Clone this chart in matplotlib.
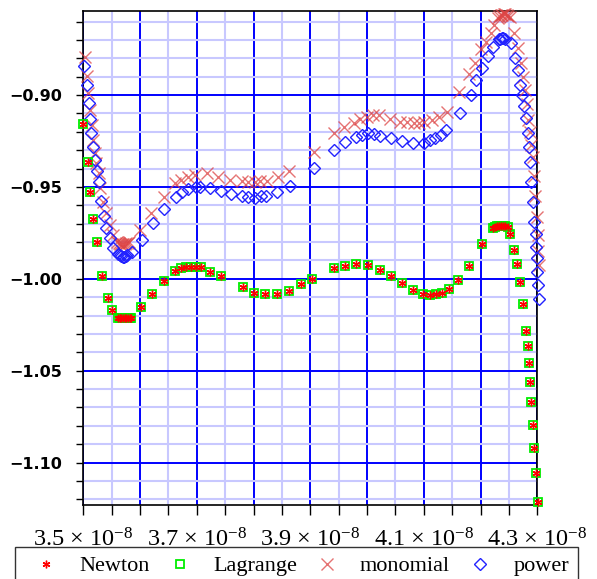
import numpy as np
import matplotlib.pyplot as plt
from matplotlib.ticker import MultipleLocator, FuncFormatter

plt.rcParams['mathtext.fontset'] = 'custom'
plt.rcParams['mathtext.rm'] = 'Liberation Serif'
plt.rcParams['mathtext.it'] = 'Liberation Serif:italic'

# x values are given in units of 1e-8
newton_x = [3.5000, 3.5078, 3.5127, 3.5168, 3.5233, 3.5335, 3.5427, 3.5506,
            3.5612, 3.5639, 3.5665, 3.5692, 3.5727, 3.5753, 3.5789, 3.5815, 3.5842,
            3.6013, 3.6212, 3.6415, 3.6618, 3.6724, 3.6812, 3.6900, 3.6988,
            3.7068, 3.7235, 3.7421, 3.7809, 3.8015, 3.8206, 3.8409, 3.8617,
            3.8832, 3.9035, 3.9411, 3.9617, 3.9812, 4.0011, 4.0223, 4.0429,
            4.0618, 4.0812, 4.0988, 4.1117, 4.1223, 4.1324, 4.1440, 4.1602,
            4.1805, 4.2017, 4.2211, 4.2246, 4.2282, 4.2317, 4.2352, 4.2387, 4.2423,
            4.2476, 4.2515, 4.2587, 4.2640, 4.2696, 4.2746, 4.2802, 4.2829,
            4.2852, 4.2878, 4.2896, 4.2922, 4.2949, 4.2979, 4.3005]
newton_y = [-0.9158, -0.9363, -0.9530, -0.9677, -0.9798, -0.9985, -1.0104, -1.0170,
            -1.0213, -1.0215, -1.0216, -1.0216, -1.0216, -1.0215, -1.0213, -1.0212, -1.0211,
            -1.0152, -1.0081, -1.0010, -0.9958, -0.9943, -0.9937, -0.9934, -0.9934,
            -0.9937, -0.9961, -0.9984, -1.0047, -1.0075, -1.0081, -1.0081, -1.0068,
            -1.0030, -1.0001, -0.9941, -0.9928, -0.9921, -0.9926, -0.9952, -0.9985,
            -1.0024, -1.0061, -1.0083, -1.0088, -1.0083, -1.0076, -1.0056, -1.0009,
            -0.9929, -0.9813, -0.9722, -0.9718, -0.9715, -0.9713, -0.9713, -0.9713, -0.9713,
            -0.9717, -0.9758, -0.9843, -0.9921, -1.0019, -1.0137, -1.0284, -1.0365,
            -1.0458, -1.0560, -1.0673, -1.0795, -1.0922, -1.1058, -1.1213]
# Lagrange evaluates to the same values as Newton
lagrange_x = list(newton_x)
lagrange_y = list(newton_y)

monomial_x = [3.5030, 3.5074, 3.5083, 3.5115, 3.5145, 3.5171, 3.5201, 3.5229,
              3.5272, 3.5303, 3.5348, 3.5406, 3.5466, 3.5524, 3.5595, 3.5621,
              3.5648, 3.5674, 3.5700, 3.5727, 3.5753, 3.5780, 3.5806, 3.5995,
              3.6200, 3.6424, 3.6613, 3.6729, 3.6847, 3.6966, 3.7177, 3.7382,
              3.7588, 3.7795, 3.7911, 3.8029, 3.8118, 3.8236, 3.8423, 3.8617,
              3.9058, 3.9411, 3.9587, 3.9764, 3.9882, 4.0000, 4.0106, 4.0205,
              4.0411, 4.0588, 4.0706, 4.0823, 4.0911, 4.0999, 4.1147, 4.1264,
              4.1408, 4.1617, 4.1805, 4.1894, 4.2013, 4.2088, 4.2176, 4.2234,
              4.2299, 4.2326, 4.2352, 4.2379, 4.2405, 4.2432, 4.2458, 4.2485,
              4.2511, 4.2590, 4.2661, 4.2719, 4.2749, 4.2785, 4.2811, 4.2829,
              4.2869, 4.2896, 4.2917, 4.2935, 4.2961, 4.2987, 4.3005, 4.3014, 4.3023]
monomial_y = [-0.8793, -0.8897, -0.8991, -0.9082, -0.9163, -0.9245, -0.9317, -0.9372,
              -0.9426, -0.9506, -0.9581, -0.9644, -0.9707, -0.9762, -0.9800, -0.9805,
              -0.9811, -0.9813, -0.9811, -0.9813, -0.9805, -0.9805, -0.9800, -0.9735,
              -0.9644, -0.9557, -0.9480, -0.9462, -0.9445, -0.9435, -0.9426, -0.9445,
              -0.9462, -0.9468, -0.9472, -0.9472, -0.9466, -0.9466, -0.9448, -0.9412,
              -0.9309, -0.9207, -0.9176, -0.9151, -0.9132, -0.9118, -0.9109, -0.9109,
              -0.9132, -0.9145, -0.9149, -0.9151, -0.9151, -0.9145, -0.9136, -0.9118,
              -0.9091, -0.8986, -0.8886, -0.8823, -0.8750, -0.8710, -0.8660, -0.8619,
              -0.8581, -0.8570, -0.8565, -0.8562, -0.8559, -0.8559, -0.8565, -0.8570,
              -0.8576, -0.8660, -0.8746, -0.8828, -0.8902, -0.8973, -0.9049, -0.9136,
              -0.9201, -0.9272, -0.9337, -0.9441, -0.9550, -0.9664, -0.9762, -0.9849, -0.9925]

power_x = [3.5012, 3.5074, 3.5092, 3.5115, 3.5139, 3.5168, 3.5203, 3.5238,
           3.5277, 3.5321, 3.5365, 3.5409, 3.5462, 3.5528, 3.5612, 3.5639,
           3.5665, 3.5692, 3.5718, 3.5745, 3.5771, 3.5850, 3.6027, 3.6224,
           3.6424, 3.6636, 3.6733, 3.6847, 3.6980, 3.7059, 3.7235, 3.7421,
           3.7601, 3.7795, 3.7911, 3.8029, 3.8123, 3.8215, 3.8418, 3.8635,
           3.9058, 3.9423, 3.9617, 3.9806, 3.9912, 4.0018, 4.0117, 4.0235,
           4.0429, 4.0618, 4.0812, 4.0999, 4.1117, 4.1205, 4.1302, 4.1399,
           4.1634, 4.1823, 4.1920, 4.2029, 4.2137, 4.2225, 4.2317, 4.2343,
           4.2370, 4.2396, 4.2423, 4.2529, 4.2599, 4.2652, 4.2696, 4.2735,
           4.2763, 4.2793, 4.2829, 4.2846, 4.2867, 4.2887, 4.2917, 4.2943,
           4.2970, 4.2979, 4.2987, 4.2996, 4.3005, 4.3023]
power_y = [-0.8844, -0.8943, -0.9042, -0.9131, -0.9208, -0.9281, -0.9351, -0.9415,
           -0.9472, -0.9577, -0.9657, -0.9725, -0.9778, -0.9830, -0.9865, -0.9873,
           -0.9876, -0.9879, -0.9879, -0.9876, -0.9873, -0.9853, -0.9791, -0.9698,
           -0.9619, -0.9553, -0.9528, -0.9510, -0.9502, -0.9502, -0.9506, -0.9521,
           -0.9537, -0.9551, -0.9555, -0.9560, -0.9552, -0.9550, -0.9526, -0.9494,
           -0.9399, -0.9299, -0.9257, -0.9227, -0.9218, -0.9208, -0.9212, -0.9221,
           -0.9232, -0.9249, -0.9260, -0.9263, -0.9245, -0.9232, -0.9215, -0.9190,
           -0.9100, -0.8997, -0.8918, -0.8855, -0.8785, -0.8737, -0.8695, -0.8693,
           -0.8690, -0.8690, -0.8693, -0.8719, -0.8800, -0.8864, -0.8946, -0.9000,
           -0.9060, -0.9127, -0.9207, -0.9281, -0.9367, -0.9472, -0.9581, -0.9689,
           -0.9756, -0.9825, -0.9888, -0.9961, -1.0036, -1.0110]

SCALE = 1e-8

fig = plt.figure(figsize=(5.97, 5.79), dpi=100)
ax = fig.add_axes([0.1395, 0.1278, 0.7605, 0.8537])

ax.plot(np.array(monomial_x) * SCALE, monomial_y, ls='none', marker='x', ms=8,
        mew=1.0, color='#dd4444', alpha=0.75, clip_on=False, zorder=3, label='monomial')
ax.plot(np.array(power_x) * SCALE, power_y, ls='none', marker='D', ms=6.3,
        mew=1.0, mfc='none', mec='#2222ff', clip_on=False, zorder=4, label='power')
ax.plot(np.array(lagrange_x) * SCALE, lagrange_y, ls='none', marker='s', ms=6,
        mew=1.3, mfc='none', mec='#00ee00', clip_on=False, zorder=5, label='Lagrange')
ax.plot(np.array(newton_x) * SCALE, newton_y, ls='none', marker=(6, 2, 0), ms=5.5,
        mew=1.0, color='#ff0000', clip_on=False, zorder=6, label='Newton')

ax.set_xlim(3.5 * SCALE, 4.3 * SCALE)
ax.set_ylim(-1.1231, -0.8541)

# grid: strong blue major lines, pale minor lines
ax.xaxis.set_major_locator(MultipleLocator(0.1 * SCALE))
ax.xaxis.set_minor_locator(MultipleLocator(0.05 * SCALE))
ax.yaxis.set_major_locator(MultipleLocator(0.05))
ax.yaxis.set_minor_locator(MultipleLocator(0.01))
ax.grid(which='minor', color='#c8c8ff', lw=1.5, zorder=0)
ax.grid(which='major', color='#0000ff', lw=1.4, zorder=1)
ax.set_axisbelow(True)


def xfmt(v, pos):
    k = int(round(v / SCALE * 10))
    if k % 2 == 0:
        return ''
    return '%.1f \u00d7 10$^{\u22128}$' % (k / 10)


def yfmt(v, pos):
    return ('%.2f' % v).replace('-', '\u2212')


ax.xaxis.set_major_formatter(FuncFormatter(xfmt))
ax.yaxis.set_major_formatter(FuncFormatter(yfmt))
ax.tick_params(axis='x', which='both', direction='out', length=7, width=1,
               pad=10, labelsize=17.5)
ax.tick_params(axis='y', which='both', direction='out', length=5, width=1,
               pad=10, labelsize=11.5)
for lab in ax.get_xticklabels():
    lab.set_family('Liberation Serif')
for lab in ax.get_yticklabels():
    lab.set_fontweight('bold')
for s in ax.spines.values():
    s.set_linewidth(1.2)
    s.set_color('black')

handles, labels = ax.get_legend_handles_labels()
order = [3, 2, 0, 1]
leg = fig.legend([handles[i] for i in order], [labels[i] for i in order],
                 loc='upper left', bbox_to_anchor=(0.025, 0.0, 0.943, 0.0553),
                 mode='expand', ncol=4, frameon=True, fancybox=False,
                 edgecolor='black', borderaxespad=0, handlelength=2,
                 handletextpad=0.5, prop={'family': 'Liberation Serif', 'size': 16})
leg.get_frame().set_linewidth(1.0)

fig.savefig('out.png', dpi=100)
